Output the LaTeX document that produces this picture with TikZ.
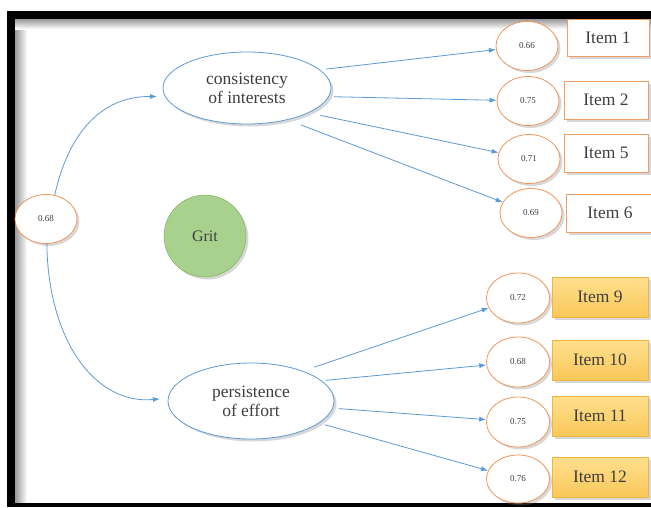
\documentclass[tikz,border=0pt]{standalone}
\usepackage{fontspec}
\setmainfont{Liberation Serif}
\usetikzlibrary{arrows.meta,shapes.geometric,shadows}
\definecolor{pathblue}{HTML}{5B9BD5}
\definecolor{errorange}{HTML}{ED7D31}
\definecolor{txtgray}{HTML}{3F3F3F}
\definecolor{gritfill}{HTML}{A9D18E}
\definecolor{gritline}{HTML}{70AD47}
\definecolor{itemtop}{HTML}{FFE08F}
\definecolor{itembot}{HTML}{F9C859}
\definecolor{itemline}{HTML}{F2B43E}

\begin{document}
\begin{tikzpicture}[x=1pt,y=-1pt,>={Latex[length=7pt,width=5pt]},
  soft/.style={drop shadow={opacity=0.3,shadow xshift=2.5pt,shadow yshift=-2.5pt}},
  latent/.style={ellipse,draw=pathblue,fill=white,thick,soft,text=txtgray,
    minimum width=168pt,minimum height=72pt,align=center,font=\fontsize{17.5}{19}\selectfont},
  errvar/.style={ellipse,draw=errorange!80,fill=white,thick,soft,text=txtgray,
    minimum width=62pt,minimum height=49pt,inner sep=0pt,font=\fontsize{9}{9}\selectfont},
  itemA/.style={rectangle,draw=errorange!75,fill=white,thick,soft,text=txtgray,
    minimum width=84pt,minimum height=38pt,font=\fontsize{17.5}{17.5}\selectfont},
  itemB/.style={rectangle,draw=itemline,top color=itemtop,bottom color=itembot,thick,soft,
    text=txtgray,minimum width=96pt,minimum height=40pt,font=\fontsize{17.5}{17.5}\selectfont},
  path/.style={->,pathblue,line width=0.8pt}]
  \useasboundingbox (0,0) rectangle (651,507);
  % frame
  \fill[white] (0,0) rectangle (651,507);
  \shade[left color=black!40,right color=white] (15,19) rectangle (27,503);
  \shade[top color=black!40,bottom color=white] (15,19) rectangle (651,29);
  \fill[black] (7,11) rectangle (651,19);
  \fill[black] (7,11) rectangle (15,507);
  \fill[black] (15,503) rectangle (651,507);

  \node[latent] (cons) at (247,88) {consistency\\of interests};
  \node[latent,minimum width=166pt,minimum height=76pt] (pers) at (251,401) {persistence\\of effort};
  \node[errvar] (corr) at (46,219) {0.68};
  \node[circle,draw=gritline,fill=gritfill,soft,minimum size=82pt,text=txtgray,
    font=\fontsize{16}{16}\selectfont] (grit) at (205,236) {Grit};

  \node[errvar] (e1) at (527,46) {0.66};
  \node[errvar] (e2) at (528,101) {0.75};
  \node[errvar] (e5) at (529,159) {0.71};
  \node[errvar] (e6) at (531,213) {0.69};
  \node[itemA,minimum width=82pt,minimum height=37pt] (i1) at (608,38) {Item 1};
  \node[itemA] (i2) at (606,100) {Item 2};
  \node[itemA] (i5) at (606,153) {Item 5};
  \node[itemA,minimum width=88pt] (i6) at (610,213) {Item 6};

  \node[errvar,minimum width=63pt,minimum height=50pt] (e9) at (518,298) {0.72};
  \node[errvar,minimum width=63pt,minimum height=50pt] (e10) at (518,362) {0.68};
  \node[errvar,minimum width=63pt,minimum height=50pt] (e11) at (518,422) {0.75};
  \node[errvar,minimum width=63pt,minimum height=48pt] (e12) at (518,479) {0.76};
  \node[itemB] (i9) at (600,297) {Item 9};
  \node[itemB] (i10) at (600,360) {Item 10};
  \node[itemB] (i11) at (600,416) {Item 11};
  \node[itemB] (i12) at (600,477) {Item 12};

  % paths
  \draw[path,shorten <=6pt] (cons.14) -- (e1);
  \draw[path,shorten <=5pt] (cons.-6) -- (e2);
  \draw[path,shorten <=12pt] (cons.-22) -- (e5);
  \draw[path,shorten <=14pt] (cons.-38) -- (e6);
  \draw[path,shorten <=12pt] (pers.30) -- (e9);
  \draw[path,shorten <=4pt] (pers.16) -- (e10);
  \draw[path,shorten <=6pt] (pers.-5) -- (e11);
  \draw[path,shorten <=6pt] (pers.-18) -- (e12);

  \draw[path,shorten >=8pt] (corr.70) .. controls (68,135) and (100,96) .. (cons.186);
  \draw[path,shorten >=8pt] (corr.-88) .. controls (48,340) and (95,405) .. (pers.178);
\end{tikzpicture}
\end{document}
